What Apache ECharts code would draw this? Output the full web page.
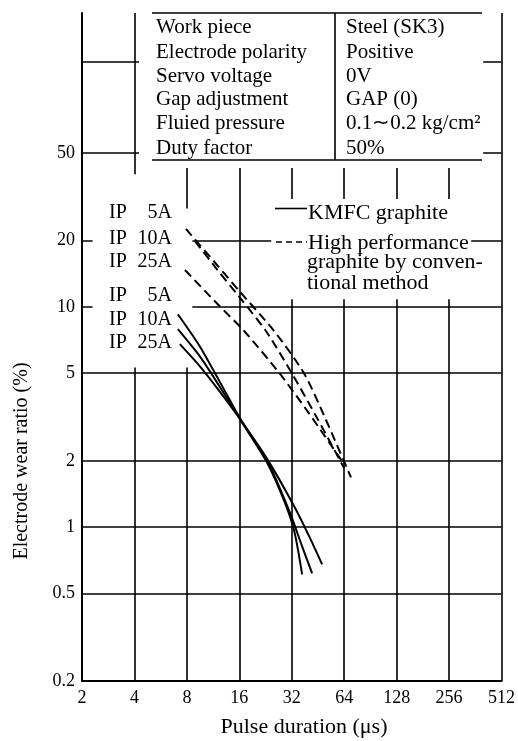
<!DOCTYPE html>
<html>
<head>
<meta charset="utf-8">
<title>Electrode wear ratio</title>
<script src="https://cdn.jsdelivr.net/npm/echarts@6/dist/echarts.min.js"></script>
<style>
  html, body { margin: 0; padding: 0; background: #fff; }
  #chart { width: 518px; height: 741px; }
</style>
</head>
<body>
<div id="chart"></div>
<script>
// y grid values (labelled) and the odd unlabelled line near the top
const yTicks = [0.2, 0.5, 1, 2, 5, 10, 20, 50]
const yExtraLine = 130

// KMFC graphite (solid), [pulse us, wear %]
const kmfc5A = [[7.1, 9.26], [9.48, 6.63], [12.3, 4.6], [16.5, 3.02], [23.2, 1.95], [29, 1.31], [33.1, 0.956], [36.7, 0.61]]
const kmfc10A = [[7.1, 7.92], [9.48, 5.97], [12.3, 4.36], [16.5, 3.02], [23.2, 1.99], [31, 1.18], [36.7, 0.817], [41.9, 0.616]]
const kmfc25A = [[7.29, 6.77], [9.48, 5.38], [12.3, 4.14], [16.5, 3.02], [23.2, 2.03], [33.1, 1.24], [40.3, 0.907], [47.8, 0.677]]

// high performance graphite, conventional method (dashed)
const conv5A = [[7.9, 22.6], [12, 15.4], [16, 11.8], [25.4, 7.75], [37.6, 5], [50, 3.1], [70, 1.68]]
const conv10A = [[8.9, 19.9], [12, 14.7], [16, 11.1], [22.8, 7.75], [32, 5], [45, 3.1], [64, 1.85]]
const conv25A = [[7.8, 14.7], [12, 10.3], [17.1, 7.75], [27.2, 5], [40, 3.3], [62, 2.0]]

const tableKeys = ['Work piece', 'Electrode polarity', 'Servo voltage', 'Gap adjustment', 'Fluied pressure', 'Duty factor']
const tableVals = ['Steel (SK3)', 'Positive', '0V', 'GAP (0)', '0.1\u223C0.2 kg/cm\u00B2', '50%']
const curveCurrents = ['5A', '10A', '25A']

const serif = 'Liberation Serif, Times New Roman, serif'
const chart = echarts.init(document.getElementById('chart'))

function txt(x, y, text, align, size) {
  return {
    type: 'text', x: x, y: y, z: 20,
    style: { text: text, align: align || 'left', verticalAlign: 'middle', fill: '#000', font: (size || 21) + 'px ' + serif }
  }
}
function seg(x1, y1, x2, y2, dash) {
  return {
    type: 'line', z: 20,
    shape: { x1: x1, y1: y1, x2: x2, y2: y2 },
    style: { stroke: '#000', lineWidth: 1.6, lineDash: dash || null }
  }
}

const graphics = []
// table
graphics.push(seg(152, 13, 482, 13), seg(152, 160, 482, 160), seg(335, 13, 335, 160))
const rowY = [27, 52, 76, 99.5, 123.5, 148]
tableKeys.forEach((k, i) => {
  graphics.push(txt(156, rowY[i], k), txt(346, rowY[i], tableVals[i]))
})
// legend
graphics.push(seg(275, 208.5, 307, 208.5), txt(308, 213, 'KMFC graphite', 'left', 22))
graphics.push(seg(276, 242, 307, 242, [6, 4]), txt(308, 243, 'High performance', 'left', 22))
graphics.push(txt(307, 262, 'graphite by conven-', 'left', 22), txt(307, 283, 'tional method', 'left', 22))
// curve labels
const labelY = [213, 239, 262, 296, 320, 343]
labelY.forEach((y, i) => {
  graphics.push(txt(109, y, 'IP', 'left', 20), txt(172, y, curveCurrents[i % 3], 'right', 20))
})
// axis titles
graphics.push(txt(304, 727, 'Pulse duration (\u03BCs)', 'center', 22))
graphics.push({
  type: 'text', x: 22, y: 461, rotation: Math.PI / 2, z: 20,
  style: { text: 'Electrode wear ratio (%)', align: 'center', verticalAlign: 'middle', fill: '#000', font: '20px ' + serif }
})

function curve(data, dashed) {
  return {
    type: 'line',
    data: data,
    z: 5,
    smooth: 0.25,
    symbol: 'none',
    silent: true,
    lineStyle: { color: '#000', width: 2, type: dashed ? [9, 5] : 'solid' }
  }
}

const option = {
  animation: false,
  backgroundColor: '#fff',
  grid: { left: 82, right: 15, top: 13, bottom: 60 },
  xAxis: {
    type: 'log',
    logBase: 2,
    min: 2,
    max: 512,
    splitNumber: 8,
    axisLine: { show: true, lineStyle: { color: '#000', width: 2 } },
    axisTick: { show: false },
    axisLabel: { color: '#000', fontFamily: serif, fontSize: 18, margin: 8 },
    splitLine: { show: true, lineStyle: { color: '#000', width: 1.6 } }
  },
  yAxis: {
    type: 'log',
    logBase: 10,
    min: 0.2,
    max: 216,
    axisLine: { show: true, lineStyle: { color: '#000', width: 2 } },
    axisTick: { show: false },
    axisLabel: { show: false },
    splitLine: { show: false }
  },
  graphic: graphics,
  series: [
    {
      // horizontal grid + y labels
      type: 'line', data: [], z: 1, silent: true,
      markLine: {
        z: 1,
        symbol: 'none', silent: true, animation: false,
        lineStyle: { type: 'solid', color: '#000', width: 1.6 },
        label: {
          position: 'start', distance: 7, color: '#000', fontFamily: serif, fontSize: 18,
          formatter: p => String(p.value)
        },
        data: yTicks.map(v => ({ yAxis: v })).concat([{ yAxis: yExtraLine, label: { show: false } }])
      }
    },
    {
      // white patches where the table, legend and labels sit over the grid
      type: 'line', data: [], z: 2, silent: true,
      markArea: {
        z: 3,
        silent: true,
        itemStyle: { color: '#fff', opacity: 1 },
        data: [
          [{ xAxis: 4.25, yAxis: 42.7 }, { xAxis: 402, yAxis: 216 }],
          [{ xAxis: 2.3, yAxis: 5.3 }, { xAxis: 4.25, yAxis: 40 }],
          [{ xAxis: 4.25, yAxis: 5.3 }, { xAxis: 8.6, yAxis: 28 }],
          [{ xAxis: 24.4, yAxis: 10.84 }, { xAxis: 343, yAxis: 30.9 }]
        ]
      }
    },
    curve(kmfc5A, false),
    curve(kmfc10A, false),
    curve(kmfc25A, false),
    curve(conv5A, true),
    curve(conv10A, true),
    curve(conv25A, true)
  ]
}

chart.setOption(option)
</script>
</body>
</html>
